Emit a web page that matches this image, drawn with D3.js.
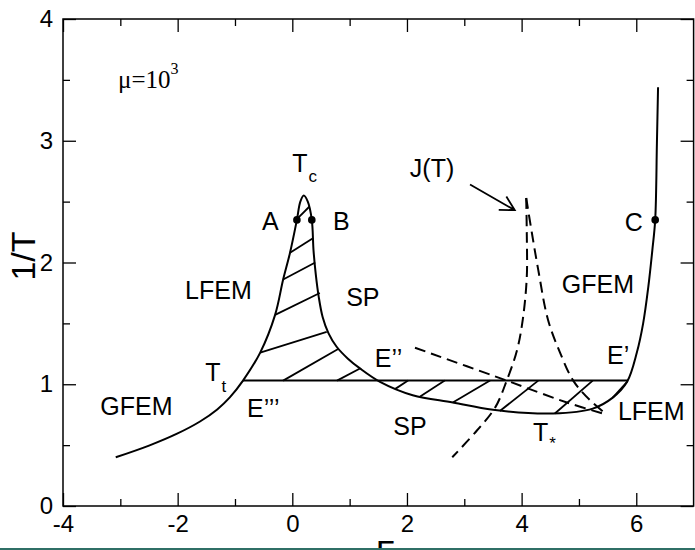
<!DOCTYPE html>
<html>
<head>
<meta charset="utf-8">
<script src="https://cdn.jsdelivr.net/npm/d3@7"></script>
<style>
    body { margin: 0; background: #fff; }
    text { font-family: "Liberation Sans", Arial, Helvetica, sans-serif; }
</style>
</head>
<body>
<script>
// ---- data (Gamma, 1/T) ----
const xMajorTicks = [-4, -2, 0, 2, 4, 6]
const xMinorTicks = [-3, -1, 1, 3, 5]
const yMajorTicks = [0, 1, 2, 3, 4]
const yMinorTicks = [0.5, 1.5, 2.5, 3.5]

// solid phase boundary, left end up to the far right
const boundaryCurve = [
    [-3.08, 0.40], [-2.50, 0.496], [-2.01, 0.594], [-1.61, 0.694], [-1.31, 0.793],
    [-1.09, 0.892], [-0.86, 1.03], [-0.56, 1.26], [-0.30, 1.57], [-0.16, 1.86],
    [-0.04, 2.08], [0.08, 2.35], [0.14, 2.50], [0.20, 2.55], [0.27, 2.50],
    [0.34, 2.35], [0.37, 2.10], [0.41, 1.90], [0.46, 1.72], [0.53, 1.55],
    [0.63, 1.42], [0.77, 1.31], [0.97, 1.21], [1.18, 1.13], [1.53, 1.02],
    [2.10, 0.91], [2.80, 0.85], [3.50, 0.79], [4.55, 0.76], [5.24, 0.80],
    [5.59, 0.89], [5.84, 1.02], [6.01, 1.26], [6.12, 1.50], [6.21, 1.80],
    [6.28, 2.10], [6.33, 2.35], [6.36, 2.98], [6.38, 3.44]
]

// horizontal line T_t ... E'
const tripleY = 1.03
const tripleX = [-0.86, 5.86]

// hatch segments [x1, y1, x2, y2]
const hatchUpper = [
    [0.11, 2.37, 0.30, 2.46],
    [-0.04, 2.08, 0.36, 2.20],
    [-0.16, 1.86, 0.40, 2.00],
    [-0.30, 1.57, 0.48, 1.75],
    [-0.56, 1.26, 0.60, 1.43],
    [-0.16, 1.03, 0.80, 1.29],
    [0.78, 1.03, 1.18, 1.13]
]
const hatchLower = [
    [1.79, 0.96, 2.02, 1.03],
    [2.23, 0.90, 2.66, 1.03],
    [2.80, 0.85, 3.45, 1.03],
    [3.62, 0.78, 4.29, 1.03],
    [4.58, 0.76, 5.24, 1.03],
    [5.59, 0.89, 5.84, 1.02]
]

// dashed J(T), two branches meeting in the cusp
const jLeft = [
    [4.08, 2.53], [4.09, 2.24], [4.09, 1.88], [4.02, 1.53], [3.92, 1.28],
    [3.74, 1.03], [3.54, 0.81], [3.22, 0.62], [2.79, 0.40]
]
const jRight = [
    [4.08, 2.53], [4.18, 2.24], [4.29, 1.94], [4.46, 1.53], [4.67, 1.26],
    [4.90, 1.03], [5.19, 0.87], [5.49, 0.75]
]
// dashed line from E'' down to the LFEM corner
const eDashed = [[2.14, 1.30], [3.74, 1.03], [4.79, 0.85], [5.49, 0.75]]

const markedPoints = [[0.08, 2.35], [0.34, 2.35], [6.33, 2.35]]

// arrow from J(T) label: start, tip
const arrowLine = [[3.10, 2.64], [3.88, 2.43]]

// labels: text, x, y (left, baseline), subscript
const labels = [
    { t: 'T', x: 0.00, y: 2.74, sub: 'c', dy: 10 },
    { t: 'A', x: -0.53, y: 2.27 },
    { t: 'B', x: 0.71, y: 2.27 },
    { t: 'C', x: 5.80, y: 2.26 },
    { t: 'J(T)', x: 2.05, y: 2.70 },
    { t: 'LFEM', x: -1.87, y: 1.70 },
    { t: 'SP', x: 0.94, y: 1.64 },
    { t: 'GFEM', x: 4.70, y: 1.75 },
    { t: 'T', x: -1.52, y: 1.03, sub: 't', dy: 11 },
    { t: 'GFEM', x: -3.35, y: 0.75 },
    { t: 'E\u2019\u2019\u2019', x: -0.79, y: 0.73 },
    { t: 'E\u2019\u2019', x: 1.44, y: 1.14 },
    { t: 'E\u2019', x: 5.49, y: 1.17 },
    { t: 'SP', x: 1.76, y: 0.58 },
    { t: 'T', x: 4.20, y: 0.53, sub: '*', dy: 8 },
    { t: 'LFEM', x: 5.68, y: 0.71 }
]

const svgWidth = 695
const svgHeight = 550
const margin = { top: 19, right: 1.4, bottom: 44, left: 63 }
const width = svgWidth - margin.left - margin.right
const height = svgHeight - margin.top - margin.bottom

const svg = d3.select('body')
    .append('svg')
    .attr('width', svgWidth)
    .attr('height', svgHeight)

svg.append('rect')
    .attr('width', svgWidth)
    .attr('height', svgHeight)
    .attr('fill', '#fff')

const chartGroup = svg.append('g')
    .attr('transform', `translate(${margin.left}, ${margin.top})`)

const xScale = d3.scaleLinear().domain([-4, 7]).range([0, width])
const yScale = d3.scaleLinear().domain([0, 4]).range([height, 0])

// axes, ticks point inward on all four sides
function addAxis(axis, tx, ty, labelled) {
    const g = chartGroup.append('g')
        .attr('transform', `translate(${tx}, ${ty})`)
        .call(axis)
    g.select('.domain').remove()
    g.selectAll('line').attr('stroke', '#000').attr('stroke-width', 1.3)
    if (labelled) {
        g.selectAll('text').attr('font-size', 24).attr('fill', '#000')
    } else {
        g.selectAll('text').remove()
    }
    return g
}

const plain = d => String(d)

addAxis(d3.axisBottom(xScale).tickValues(xMajorTicks).tickSize(-13).tickSizeOuter(0)
    .tickPadding(9).tickFormat(plain), 0, height, true)
addAxis(d3.axisBottom(xScale).tickValues(xMinorTicks).tickSize(-7).tickSizeOuter(0), 0, height, false)
addAxis(d3.axisTop(xScale).tickValues(xMajorTicks).tickSize(-13).tickSizeOuter(0), 0, 0, false)
addAxis(d3.axisTop(xScale).tickValues(xMinorTicks).tickSize(-7).tickSizeOuter(0), 0, 0, false)
addAxis(d3.axisLeft(yScale).tickValues(yMajorTicks).tickSize(-13).tickSizeOuter(0)
    .tickPadding(10).tickFormat(plain), 0, 0, true)
addAxis(d3.axisLeft(yScale).tickValues(yMinorTicks).tickSize(-7).tickSizeOuter(0), 0, 0, false)
addAxis(d3.axisRight(yScale).tickValues(yMajorTicks).tickSize(-13).tickSizeOuter(0), width, 0, false)
addAxis(d3.axisRight(yScale).tickValues(yMinorTicks).tickSize(-7).tickSizeOuter(0), width, 0, false)

// frame
chartGroup.append('rect')
    .attr('width', width)
    .attr('height', height)
    .attr('fill', 'none')
    .attr('stroke', '#000')
    .attr('stroke-width', 1.5)

// axis titles
svg.append('text')
    .attr('transform', 'translate(35, 256) rotate(-90)')
    .attr('text-anchor', 'middle')
    .attr('font-size', 34)
    .text('1/T')

// x title sits partly below the picture edge, as in the original
svg.append('text')
    .attr('x', 385)
    .attr('y', 564)
    .attr('text-anchor', 'middle')
    .attr('font-size', 34)
    .text('\u0393')

const line = d3.line()
    .x(d => xScale(d[0]))
    .y(d => yScale(d[1]))
    .curve(d3.curveCatmullRom.alpha(0.5))

// solid boundary
chartGroup.append('path')
    .datum(boundaryCurve)
    .attr('d', line)
    .attr('fill', 'none')
    .attr('stroke', '#000')
    .attr('stroke-width', 2)

// horizontal line
chartGroup.append('line')
    .attr('x1', xScale(tripleX[0]))
    .attr('x2', xScale(tripleX[1]))
    .attr('y1', yScale(tripleY))
    .attr('y2', yScale(tripleY))
    .attr('stroke', '#000')
    .attr('stroke-width', 2)

// hatching
chartGroup.selectAll('.hatch')
    .data(hatchUpper.concat(hatchLower))
    .enter()
    .append('line')
    .attr('class', 'hatch')
    .attr('x1', d => xScale(d[0]))
    .attr('y1', d => yScale(d[1]))
    .attr('x2', d => xScale(d[2]))
    .attr('y2', d => yScale(d[3]))
    .attr('stroke', '#000')
    .attr('stroke-width', 1.8)

// dashed curves
;[jLeft, jRight, eDashed].forEach(pts => {
    chartGroup.append('path')
        .datum(pts)
        .attr('d', line)
        .attr('fill', 'none')
        .attr('stroke', '#000')
        .attr('stroke-width', 2)
        .attr('stroke-dasharray', '11,6')
})

// points A, B, C
chartGroup.selectAll('circle')
    .data(markedPoints)
    .enter()
    .append('circle')
    .attr('cx', d => xScale(d[0]))
    .attr('cy', d => yScale(d[1]))
    .attr('r', 3.8)
    .attr('fill', '#000')

// arrow from J(T)
const a0 = [xScale(arrowLine[0][0]), yScale(arrowLine[0][1])]
const a1 = [xScale(arrowLine[1][0]), yScale(arrowLine[1][1])]
const ang = Math.atan2(a1[1] - a0[1], a1[0] - a0[0])
const headLen = 16
const headPts = [ang + Math.PI - 0.5, ang + Math.PI + 0.5]
    .map(t => [a1[0] + headLen * Math.cos(t), a1[1] + headLen * Math.sin(t)])

chartGroup.append('path')
    .attr('d', `M${a0}L${a1}M${headPts[0]}L${a1}L${headPts[1]}`)
    .attr('fill', 'none')
    .attr('stroke', '#000')
    .attr('stroke-width', 1.8)

// mu label in serif
const mu = chartGroup.append('text')
    .attr('x', xScale(-3.04))
    .attr('y', yScale(3.43))
    .style('font-family', '"Liberation Serif", "Times New Roman", serif')
    .attr('font-size', 25)
mu.append('tspan').text('\u03bc=10')
mu.append('tspan').attr('dy', -14).attr('font-size', 16).text('3')

// region labels
labels.forEach(l => {
    const t = chartGroup.append('text')
        .attr('x', xScale(l.x))
        .attr('y', yScale(l.y))
        .attr('font-size', 25)
    t.append('tspan').text(l.t)
    if (l.sub) {
        t.append('tspan')
            .attr('dx', 1)
            .attr('dy', l.dy)
            .attr('font-size', 17)
            .text(l.sub)
    }
})

// thin band at the bottom of the picture
svg.append('rect')
    .attr('x', 0)
    .attr('y', 548)
    .attr('width', svgWidth)
    .attr('height', 2)
    .attr('fill', '#2f6f66')
</script>
</body>
</html>
